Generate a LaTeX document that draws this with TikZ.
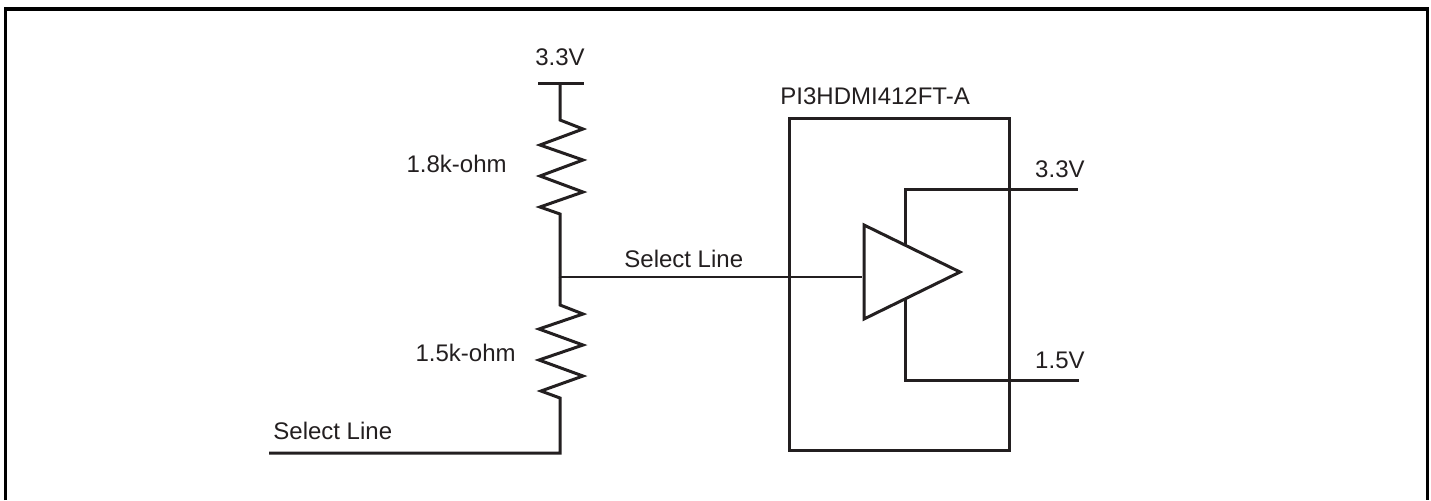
\documentclass[tikz,border=0pt]{standalone}
\usepackage{fontspec}
\setmainfont{Liberation Sans}
\usepackage{tikz}
\definecolor{inkdark}{HTML}{231F20}
\tikzset{
  wire/.style={draw=inkdark, line width=1.5pt, line join=miter},
  thinwire/.style={draw=inkdark, line width=1.1pt},
  lbl/.style={text=inkdark, font=\fontsize{12}{14}\selectfont, inner sep=0pt},
}

\begin{document}
\begin{tikzpicture}[x=0.5pt, y=-0.5pt]
% Set the size of the figure
\useasboundingbox (0,0) rectangle (1431,500);
\fill[white] (0,0) rectangle (1431,500);

% Outer frame, open at the bottom
\coordinate (frameBL) at (5.5,500);
\coordinate (frameTL) at (5.5,9);
\coordinate (frameTR) at (1427.5,9);
\coordinate (frameBR) at (1427.5,500);
\draw[black, line width=1.7pt] (frameBL) -- (frameTL) -- (frameTR) -- (frameBR);

% Main points of the divider
\coordinate (barL) at (538,83);
\coordinate (barR) at (584,83);
\coordinate (top) at (560,83);
\coordinate (junction) at (560,277);
\coordinate (corner) at (560,453);
\coordinate (selEnd) at (269,453);

% Supply bar
\draw[wire] (barL) -- (barR);

% Upper resistor, lower resistor
\draw[wire] (top) -- (560,120) -- (583,129) -- (540,145) -- (583,160) -- (540,176) -- (583,192) -- (540,207) -- (560,214) -- (junction);
\draw[wire] (junction) -- (560,305) -- (583,314) -- (539,329) -- (583,345) -- (539,360) -- (583,376) -- (541,391) -- (560,398) -- (corner) -- (selEnd);

% Chip
\node[wire, rectangle, minimum width=110pt, minimum height=166pt, inner sep=0pt] (chip) at (899,284) {};

% Buffer
\coordinate (bufTop) at (864,225);
\coordinate (bufTip) at (960,272);
\coordinate (bufBot) at (864,319);
\draw[wire] (bufTop) -- (bufTip) -- (bufBot) -- cycle;

% Select line into the buffer
\coordinate (bufIn) at (862,277);
\draw[thinwire] (junction) -- (bufIn);

% Buffer supplies
\coordinate (hiStart) at (905,245);
\coordinate (hiCorner) at (905,189);
\coordinate (hiEnd) at (1078,189);
\coordinate (loStart) at (905,299);
\coordinate (loCorner) at (905,380);
\coordinate (loEnd) at (1079,380);
\draw[wire] (hiStart) -- (hiCorner) -- (hiEnd);
\draw[wire] (loStart) -- (loCorner) -- (loEnd);

% Labels
\node[lbl, anchor=base] (lblTop) at (560,65) {3.3V};
\node[lbl, anchor=base east] (lblUpper) at (507,172) {1.8k-ohm};
\node[lbl, anchor=base east] (lblLower) at (516,361) {1.5k-ohm};
\node[lbl, anchor=base west] (lblSelBot) at (273,439) {Select Line};
\node[lbl, anchor=base west] (lblSelMid) at (624,267) {Select Line};
\node[lbl, anchor=base west] (lblChip) at (780,104) {PI3HDMI412FT-A};
\node[lbl, anchor=base east] (lblHi) at (1085,177) {3.3V};
\node[lbl, anchor=base east] (lblLo) at (1085,368) {1.5V};
\end{tikzpicture}
\end{document}
